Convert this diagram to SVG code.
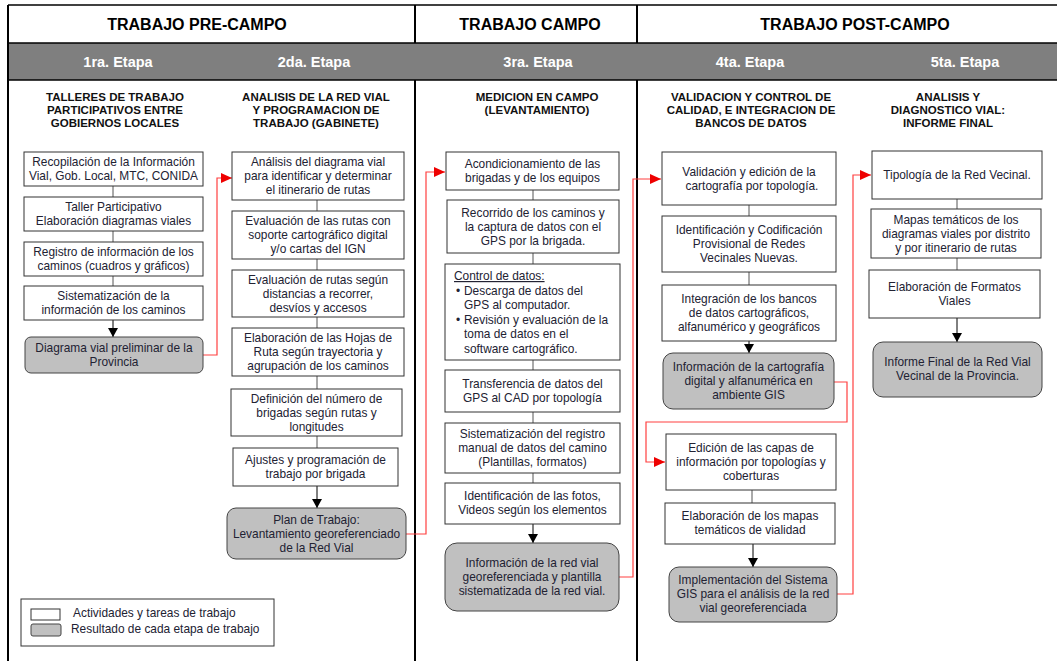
<svg xmlns="http://www.w3.org/2000/svg" width="1057" height="661" viewBox="0 0 1057 661">
<style>
.frame{stroke:#000;stroke-width:2;fill:none}
.hline{stroke:#000;stroke-width:1.5}
.band{fill:#7f7f7f}
.hdr{font-family:"Liberation Sans",Arial,sans-serif;font-weight:bold;font-size:16px;fill:#000;text-anchor:middle}
.etapa{font-family:"Liberation Sans",Arial,sans-serif;font-weight:bold;font-size:14.5px;fill:#fff;text-anchor:middle}
.ttl{font-family:"Liberation Sans",Arial,sans-serif;font-weight:bold;font-size:11.5px;fill:#111;text-anchor:middle}
.box{fill:#fff;stroke:#333;stroke-width:1}
.res{fill:#c0c0c0;stroke:#444;stroke-width:1}
.t{font-family:"Liberation Sans",Arial,sans-serif;font-size:11.9px;fill:#222233;text-anchor:middle}
.tl{font-family:"Liberation Sans",Arial,sans-serif;font-size:11.9px;fill:#222233}
.link{stroke:#555;stroke-width:1;fill:none}
.arr{stroke:#000;stroke-width:1;fill:none}
.red{stroke:#ff4040;stroke-width:1.2;fill:none}
</style>
<defs>
<marker id="ab" markerWidth="10" markerHeight="10" refX="9" refY="5" orient="auto" markerUnits="userSpaceOnUse">
<path d="M0,0 L9,5 L0,10 Z" fill="#000"/>
</marker>
<marker id="ar" markerWidth="12" markerHeight="10" refX="11" refY="5" orient="auto" markerUnits="userSpaceOnUse">
<path d="M0,0 L11,5 L0,10 Z" fill="#ee0000"/>
</marker>
</defs>
<rect x="0" y="0" width="1057" height="661" fill="#fff"/>

<g id="frame">
<rect class="band" x="8" y="43" width="1049" height="37"/>
<line class="hline" x1="8" y1="5" x2="1057" y2="5"/>
<line class="hline" x1="8" y1="43" x2="1057" y2="43"/>
<line class="hline" x1="8" y1="80" x2="1057" y2="80"/>
<line class="frame" x1="8" y1="5" x2="8" y2="661"/>
<line class="frame" x1="415" y1="5" x2="415" y2="43"/>
<line class="frame" x1="415" y1="80" x2="415" y2="661"/>
<line class="frame" x1="637" y1="5" x2="637" y2="43"/>
<line class="frame" x1="637" y1="80" x2="637" y2="661"/>
<text class="hdr" x="197" y="30">TRABAJO PRE-CAMPO</text>
<text class="hdr" x="530" y="30">TRABAJO CAMPO</text>
<text class="hdr" x="855" y="30">TRABAJO POST-CAMPO</text>
<text class="etapa" x="118" y="67">1ra. Etapa</text>
<text class="etapa" x="314" y="67">2da. Etapa</text>
<text class="etapa" x="538" y="67">3ra. Etapa</text>
<text class="etapa" x="750" y="67">4ta. Etapa</text>
<text class="etapa" x="965" y="67">5ta. Etapa</text>
<text class="ttl" x="115" y="101">TALLERES DE TRABAJO</text>
<text class="ttl" x="115" y="114">PARTICIPATIVOS ENTRE</text>
<text class="ttl" x="115" y="127">GOBIERNOS LOCALES</text>
<text class="ttl" x="316" y="101">ANALISIS DE LA RED VIAL</text>
<text class="ttl" x="316" y="114">Y PROGRAMACION  DE</text>
<text class="ttl" x="316" y="127">TRABAJO  (GABINETE)</text>
<text class="ttl" x="537" y="101">MEDICION EN CAMPO</text>
<text class="ttl" x="537" y="114">(LEVANTAMIENTO)</text>
<text class="ttl" x="751" y="101">VALIDACION Y CONTROL  DE</text>
<text class="ttl" x="751" y="114">CALIDAD, E INTEGRACION  DE</text>
<text class="ttl" x="751" y="127">BANCOS DE DATOS</text>
<text class="ttl" x="948" y="101">ANALISIS Y</text>
<text class="ttl" x="948" y="114">DIAGNOSTICO VIAL:</text>
<text class="ttl" x="948" y="127">INFORME FINAL</text>
</g>

<g id="connectors">
<line class="link" x1="113" y1="186" x2="113" y2="197"/>
<line class="link" x1="113" y1="231" x2="113" y2="242"/>
<line class="link" x1="113" y1="276" x2="113" y2="286"/>
<line class="arr" x1="113" y1="320" x2="113" y2="337" marker-end="url(#ab)"/>
<line class="link" x1="317" y1="200" x2="317" y2="211"/>
<line class="link" x1="317" y1="259" x2="317" y2="270"/>
<line class="link" x1="317" y1="317" x2="317" y2="328"/>
<line class="link" x1="317" y1="376" x2="317" y2="389"/>
<line class="link" x1="317" y1="436" x2="317" y2="448"/>
<line class="arr" x1="317" y1="486" x2="317" y2="508" marker-end="url(#ab)"/>
<line class="link" x1="533" y1="190" x2="533" y2="200"/>
<line class="link" x1="533" y1="253" x2="533" y2="264"/>
<line class="link" x1="533" y1="360" x2="533" y2="370"/>
<line class="link" x1="533" y1="412" x2="533" y2="423"/>
<line class="link" x1="533" y1="473" x2="533" y2="483"/>
<line class="arr" x1="533" y1="524" x2="533" y2="543" marker-end="url(#ab)"/>
<line class="link" x1="749" y1="205" x2="749" y2="216"/>
<line class="link" x1="749" y1="272" x2="749" y2="285"/>
<line class="arr" x1="749" y1="341" x2="749" y2="353" marker-end="url(#ab)"/>
<line class="link" x1="752" y1="490" x2="752" y2="503"/>
<line class="arr" x1="753" y1="544" x2="753" y2="567" marker-end="url(#ab)"/>
<line class="link" x1="957" y1="199" x2="957" y2="209"/>
<line class="link" x1="957" y1="258" x2="957" y2="270"/>
<line class="arr" x1="957" y1="318" x2="957" y2="342" marker-end="url(#ab)"/>
<path class="red" d="M203,355 H217 V178 H232" marker-end="url(#ar)"/>
<path class="red" d="M406,534 H426 V172 H445" marker-end="url(#ar)"/>
<path class="red" d="M619,577 H633 V179 H661" marker-end="url(#ar)"/>
<path class="red" d="M834,382 H847 V422 H646 V462 H665" marker-end="url(#ar)"/>
<path class="red" d="M837,594 H853 V175 H871" marker-end="url(#ar)"/>
</g>

<g id="n1a"><rect class="box" x="24" y="152" width="179" height="34"/>
<text class="t" x="113.5" y="166">Recopilación de la Información</text><text class="t" x="113.5" y="180">Vial, Gob. Local, MTC,  CONIDA</text></g>
<g id="n1b"><rect class="box" x="24" y="197" width="179" height="34"/>
<text class="t" x="113.5" y="211">Taller Participativo</text><text class="t" x="113.5" y="225">Elaboración diagramas viales</text></g>
<g id="n1c"><rect class="box" x="24" y="242" width="179" height="34"/>
<text class="t" x="113.5" y="256">Registro de información de los</text><text class="t" x="113.5" y="270">caminos (cuadros y gráficos)</text></g>
<g id="n1d"><rect class="box" x="24" y="286" width="179" height="34"/>
<text class="t" x="113.5" y="300">Sistematización de la</text><text class="t" x="113.5" y="314">información de los caminos</text></g>
<g id="n1r"><rect class="res" x="25" y="337" width="178" height="36" rx="6"/>
<text class="t" x="114" y="352">Diagrama vial preliminar  de la</text><text class="t" x="114" y="366">Provincia</text></g>

<g id="n2a"><rect class="box" x="232" y="152" width="172" height="48"/>
<text class="t" x="318" y="166">Análisis del diagrama vial</text><text class="t" x="318" y="180">para identificar y determinar</text><text class="t" x="318" y="194">el itinerario de rutas</text></g>
<g id="n2b"><rect class="box" x="232" y="211" width="172" height="48"/>
<text class="t" x="318" y="225">Evaluación de las rutas con</text><text class="t" x="318" y="239">soporte cartográfico digital</text><text class="t" x="318" y="253">y/o cartas del IGN</text></g>
<g id="n2c"><rect class="box" x="232" y="270" width="172" height="47"/>
<text class="t" x="318" y="284">Evaluación de rutas  según</text><text class="t" x="318" y="298">distancias a recorrer,</text><text class="t" x="318" y="312">desvíos y accesos</text></g>
<g id="n2d"><rect class="box" x="232" y="328" width="172" height="48"/>
<text class="t" x="318" y="342">Elaboración de las Hojas de</text><text class="t" x="318" y="356">Ruta según trayectoria y</text><text class="t" x="318" y="370">agrupación de los caminos</text></g>
<g id="n2e"><rect class="box" x="231" y="389" width="171" height="47"/>
<text class="t" x="316.5" y="403">Definición del número de</text><text class="t" x="316.5" y="417">brigadas según rutas y</text><text class="t" x="316.5" y="431">longitudes</text></g>
<g id="n2f"><rect class="box" x="233" y="448" width="165" height="38"/>
<text class="t" x="315.5" y="464">Ajustes y programación de</text><text class="t" x="315.5" y="478">trabajo por brigada</text></g>
<g id="n2r"><rect class="res" x="227" y="508" width="179" height="51" rx="9"/>
<text class="t" x="316.5" y="524">Plan de Trabajo:</text><text class="t" x="316.5" y="538">Levantamiento  georeferenciado</text><text class="t" x="316.5" y="552">de la Red Vial</text></g>

<g id="n3a"><rect class="box" x="446" y="152" width="173" height="38"/>
<text class="t" x="532.5" y="168">Acondicionamiento de las</text><text class="t" x="532.5" y="182">brigadas y de los equipos</text></g>
<g id="n3b"><rect class="box" x="447" y="200" width="172" height="53"/>
<text class="t" x="533" y="217">Recorrido de los caminos y</text><text class="t" x="533" y="231">la captura de datos con el</text><text class="t" x="533" y="245">GPS por la brigada.</text></g>
<g id="n3c"><rect class="box" x="445" y="264" width="175" height="96"/>
<text class="tl" x="454" y="280" text-decoration="underline">Control de datos:</text>
<text class="tl" x="456" y="295">•</text><text class="tl" x="464" y="295">Descarga de datos del</text>
<text class="tl" x="464" y="309">GPS al computador.</text>
<text class="tl" x="456" y="324">•</text><text class="tl" x="464" y="324">Revisión y evaluación de la</text>
<text class="tl" x="464" y="338">toma de datos en el</text>
<text class="tl" x="464" y="353">software  cartográfico.</text></g>
<g id="n3d"><rect class="box" x="445" y="370" width="175" height="42"/>
<text class="t" x="532.5" y="388">Transferencia  de datos del</text><text class="t" x="532.5" y="402">GPS al CAD por topología</text></g>
<g id="n3e"><rect class="box" x="445" y="423" width="175" height="50"/>
<text class="t" x="532.5" y="438">Sistematización del registro</text><text class="t" x="532.5" y="452">manual de datos del camino</text><text class="t" x="532.5" y="466">(Plantillas, formatos)</text></g>
<g id="n3f"><rect class="box" x="445" y="483" width="175" height="41"/>
<text class="t" x="532.5" y="500">Identificación de las fotos,</text><text class="t" x="532.5" y="514">Videos según los elementos</text></g>
<g id="n3r"><rect class="res" x="445" y="543" width="174" height="68" rx="12"/>
<text class="t" x="532" y="567">Información de la red vial</text><text class="t" x="532" y="581">georeferenciada y plantilla</text><text class="t" x="532" y="595">sistematizada de la red vial.</text></g>

<g id="n4a"><rect class="box" x="662" y="152" width="174" height="53"/>
<text class="t" x="749" y="176">Validación y edición de la</text><text class="t" x="752" y="190">cartografía por topología.</text></g>
<g id="n4b"><rect class="box" x="662" y="216" width="174" height="56"/>
<text class="t" x="749" y="234">Identificación y Codificación</text><text class="t" x="749" y="248">Provisional de Redes</text><text class="t" x="749" y="262">Vecinales Nuevas.</text></g>
<g id="n4c"><rect class="box" x="662" y="285" width="174" height="56"/>
<text class="t" x="749" y="303">Integración de los bancos</text><text class="t" x="749" y="317">de datos cartográficos,</text><text class="t" x="749" y="331">alfanumérico y geográficos</text></g>
<g id="n4r1"><rect class="res" x="663" y="353" width="171" height="56" rx="10"/>
<text class="t" x="748.5" y="371">Información de la cartografía</text><text class="t" x="748.5" y="385">digital y alfanumérica en</text><text class="t" x="748.5" y="399">ambiente GIS</text></g>
<g id="n4d"><rect class="box" x="666" y="434" width="170" height="56"/>
<text class="t" x="751" y="452">Edición de las capas de</text><text class="t" x="751" y="466">información por topologías y</text><text class="t" x="751" y="480">coberturas</text></g>
<g id="n4e"><rect class="box" x="665" y="503" width="170" height="41"/>
<text class="t" x="750" y="520">Elaboración de los mapas</text><text class="t" x="750" y="534">temáticos de vialidad</text></g>
<g id="n4r2"><rect class="res" x="669" y="567" width="168" height="55" rx="10"/>
<text class="t" x="753" y="584">Implementación del Sistema</text><text class="t" x="753" y="598">GIS para el análisis de la red</text><text class="t" x="753" y="612">vial georeferenciada</text></g>

<g id="n5a"><rect class="box" x="872" y="151" width="170" height="48"/>
<text class="t" x="957" y="179">Tipología de la Red Vecinal.</text></g>
<g id="n5b"><rect class="box" x="871" y="209" width="170" height="49"/>
<text class="t" x="956" y="224">Mapas temáticos de los</text><text class="t" x="956" y="238">diagramas viales por distrito</text><text class="t" x="956" y="252">y por itinerario  de rutas</text></g>
<g id="n5c"><rect class="box" x="869" y="270" width="171" height="48"/>
<text class="t" x="954.5" y="291">Elaboración de Formatos</text><text class="t" x="954.5" y="305">Viales</text></g>
<g id="n5r"><rect class="res" x="873" y="342" width="169" height="55" rx="10"/>
<text class="t" x="957.5" y="366">Informe Final  de la Red Vial</text><text class="t" x="957.5" y="380">Vecinal de la Provincia.</text></g>

<g id="legend"><rect class="box" x="21" y="599" width="253" height="47"/>
<rect class="box" x="31" y="609" width="29" height="11"/>
<rect class="res" x="31" y="624" width="30" height="12" rx="2"/>
<text class="tl" x="73" y="617">Actividades y tareas  de trabajo</text>
<text class="tl" x="71" y="633">Resultado de cada etapa de trabajo</text></g>
</svg>
